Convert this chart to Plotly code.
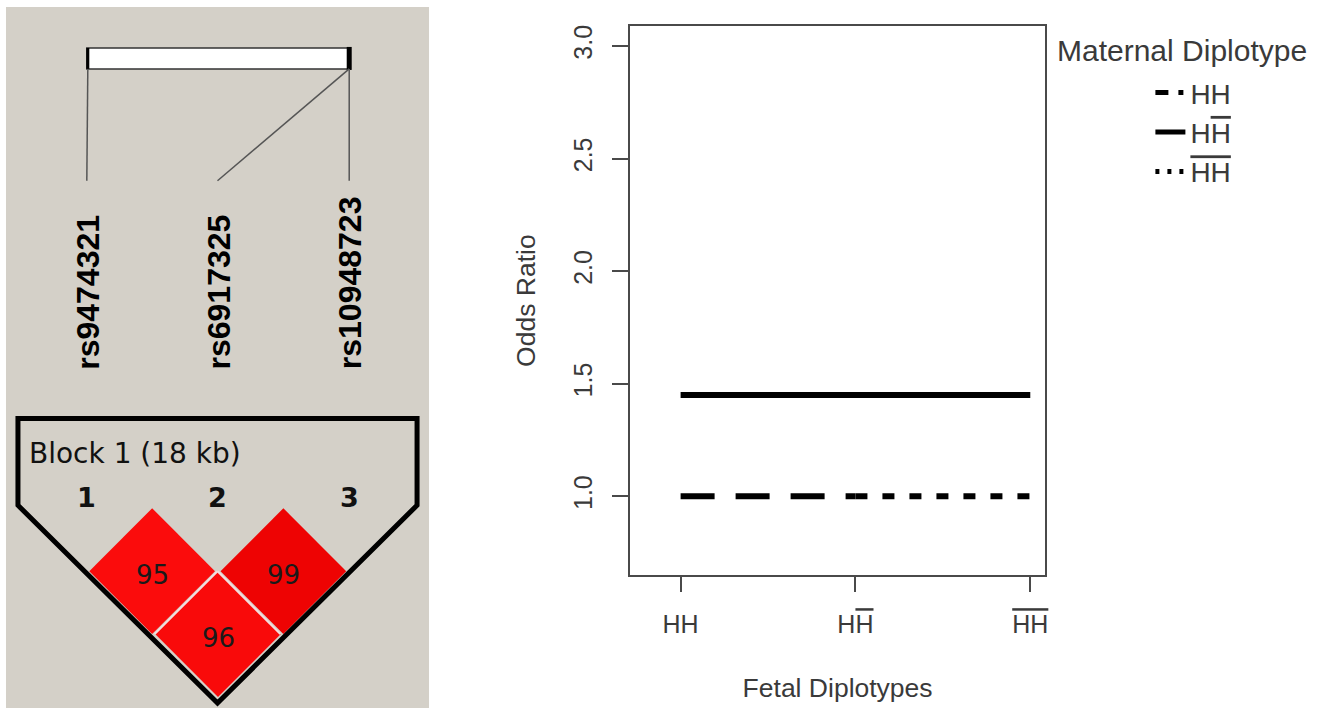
import plotly.graph_objects as go

W, H = 1329, 711

# ---------------- data ----------------
OV = "<span style='text-decoration:overline'>H</span>"
fetal_labels = ["HH", "H" + OV, "<span style='text-decoration:overline'>HH</span>"]
maternal_labels = ["HH", "H" + OV, "<span style='text-decoration:overline'>HH</span>"]
or_mat_HH = [1.0, 1.0, None]          # dashed
or_mat_HHbar = [1.45, 1.45, 1.45]     # solid
or_mat_HbarHbar = [None, 1.0, 1.0]    # dotted
y_ticks = [1.0, 1.5, 2.0, 2.5, 3.0]

# Haploview LD block panel
snp_names = ["rs9474321", "rs6917325", "rs10948723"]
snp_numbers = ["1", "2", "3"]
ld_pairs = [(0, 1), (1, 2), (0, 2)]
ld_values = [95, 99, 96]
block_label = "Block 1 (18 kb)"

# ---------------- helpers (pixel -> paper) ----------------
def X(px):
    return px / W

def Y(py):
    return 1 - py / H

fig = go.Figure()
series = [or_mat_HH, or_mat_HHbar, or_mat_HbarHbar]
dashes = ["34px,21px", "solid", "12px,15px"]
legend_dashes = ["13px,10px,5px,10px", "solid", "4px,8px"]
xs = list(range(len(fetal_labels)))
for k, (name, vals, dash) in enumerate(zip(maternal_labels, series, dashes)):
    fig.add_trace(go.Scatter(
        x=xs, y=vals, mode="lines", name=name, legendgroup=f"g{k}", showlegend=False,
        line=dict(color="black", width=6, dash=dash),
        connectgaps=False,
    ))
# legend entries (short R-style legend segments)
for k, (name, dash) in enumerate(zip(maternal_labels, legend_dashes)):
    fig.add_trace(go.Scatter(
        x=[None], y=[None], mode="lines", name=name, legendgroup=f"g{k}", showlegend=True,
        line=dict(color="black", width=5, dash=dash),
    ))

axis_col = "#4a4a4a"
txt_col = "#3a3a3a"
font_main = "Arial, Liberation Sans, sans-serif"

fig.update_layout(
    width=W, height=H,
    margin=dict(l=0, r=0, t=0, b=0),
    paper_bgcolor="white", plot_bgcolor="white",
    font=dict(family=font_main, color=txt_col, size=25),
    xaxis=dict(
        domain=[X(631.5), X(1047.5)],
        range=[-0.289, 2.085],
        tickvals=xs, ticktext=fetal_labels,
        ticks="outside", ticklen=15, tickwidth=2, tickcolor=axis_col,
        ticklabelstandoff=11,
        showline=True, linewidth=2, linecolor=axis_col, mirror=True,
        showgrid=False, zeroline=False,
        tickfont=dict(size=25, color=txt_col),
        title=dict(text="Fetal Diplotypes", font=dict(size=26.5, color=txt_col), standoff=41),
    ),
    yaxis=dict(
        domain=[Y(575), Y(25)],
        range=[0.650, 3.089],
        tickvals=y_ticks, ticktext=[f"{v:.1f}" for v in y_ticks],
        tickangle=-90,
        ticks="outside", ticklen=16, tickwidth=2, tickcolor=axis_col,
        ticklabelstandoff=10,
        showline=True, linewidth=2, linecolor=axis_col, mirror=True,
        showgrid=False, zeroline=False,
        tickfont=dict(size=25, color=txt_col),
        title=dict(text="Odds Ratio", font=dict(size=26.5, color=txt_col), standoff=26),
    ),
    showlegend=True,
    legend=dict(
        x=X(1153), y=Y(67), xanchor="left", yanchor="top",
        bgcolor="rgba(0,0,0,0)",
        font=dict(size=28, color=txt_col, family=font_main),
        itemwidth=30, tracegroupgap=0,
    ),
)

# legend title as annotation (positioned left of items, like R's legend)
annotations = [dict(
    x=X(1057), y=Y(50), xref="paper", yref="paper", xanchor="left", yanchor="middle",
    text="Maternal Diplotype", showarrow=False,
    font=dict(size=30, color=txt_col, family=font_main),
)]

shapes = []
# left panel background
shapes.append(dict(type="rect", xref="paper", yref="paper", x0=X(6), x1=X(430), y0=Y(708), y1=Y(6),
                   fillcolor="#d4d0c8", line=dict(width=0), layer="below"))

marker_x = [87, 218, 350]
# white chromosome bar
shapes.append(dict(type="rect", xref="paper", yref="paper", x0=X(87), x1=X(351), y0=Y(68), y1=Y(47),
                   fillcolor="white", line=dict(color="#333333", width=1.5)))
shapes.append(dict(type="line", xref="paper", yref="paper", x0=X(88), x1=X(88), y0=Y(68), y1=Y(47),
                   line=dict(color="black", width=3)))
shapes.append(dict(type="line", xref="paper", yref="paper", x0=X(350), x1=X(350), y0=Y(69), y1=Y(46),
                   line=dict(color="black", width=5)))
# position lines from bar to labels
bar_pos = [88, 350, 350]
for bx, mx in zip(bar_pos, marker_x):
    shapes.append(dict(type="line", xref="paper", yref="paper", x0=X(bx), x1=X(mx), y0=Y(68), y1=Y(180),
                       line=dict(color="#555555", width=1.5)))
# SNP name labels (rotated)
for name, mx in zip(snp_names, marker_x):
    annotations.append(dict(
        x=X(mx + 1), y=Y(371), xref="paper", yref="paper", xanchor="center", yanchor="bottom",
        text="<b>" + name + "</b>", textangle=-90, showarrow=False,
        font=dict(size=32, color="black", family="Arial, Liberation Sans, sans-serif"),
    ))

# block outline (pentagon)
pent = [(18, 418), (418, 418), (418, 505), (218, 703), (18, 505)]
path = "M " + " L ".join(f"{X(a)},{Y(b)}" for a, b in pent) + " Z"
shapes.append(dict(type="path", xref="paper", yref="paper", path=path,
                   fillcolor="rgba(0,0,0,0)", line=dict(color="black", width=5)))

annotations.append(dict(x=X(27), y=Y(453), xref="paper", yref="paper", xanchor="left", yanchor="middle",
                        text=block_label, showarrow=False,
                        font=dict(size=28, color="#111111", family="DejaVu Sans, sans-serif")))
for num, mx in zip(snp_numbers, marker_x):
    annotations.append(dict(x=X(mx), y=Y(497), xref="paper", yref="paper", xanchor="center", yanchor="middle",
                            text="<b>" + num + "</b>", showarrow=False,
                            font=dict(size=27, color="#111111", family="DejaVu Sans, sans-serif")))

# LD diamonds
half = 63
row_y = [571, 634]
diamond_cols = {95: "#fb0c0c", 99: "#ee0303", 96: "#f90a0a"}
for (i, j), v in zip(ld_pairs, ld_values):
    cx = (marker_x[i] + marker_x[j]) / 2
    cy = row_y[j - i - 1]
    pts = [(cx, cy - half), (cx + half, cy), (cx, cy + half), (cx - half, cy)]
    p = "M " + " L ".join(f"{X(a)},{Y(b)}" for a, b in pts) + " Z"
    shapes.append(dict(type="path", xref="paper", yref="paper", path=p,
                       fillcolor=diamond_cols[v], line=dict(width=0), layer="below"))
    annotations.append(dict(x=X(cx), y=Y(cy + 4), xref="paper", yref="paper", xanchor="center",
                            yanchor="middle", text=str(v), showarrow=False,
                            font=dict(size=26, color="#1a1a1a", family="DejaVu Sans, sans-serif")))
# light separators between diamonds
sep_c = (218, 571)
for ex in (155, 281):
    shapes.append(dict(type="line", xref="paper", yref="paper", x0=X(sep_c[0]), y0=Y(sep_c[1]),
                       x1=X(ex), y1=Y(634), line=dict(color="#f3dede", width=2)))

fig.update_layout(shapes=shapes, annotations=annotations)
fig.write_html("out.html", config={"displayModeBar": False},
               post_script="document.body.style.margin='0px';")
